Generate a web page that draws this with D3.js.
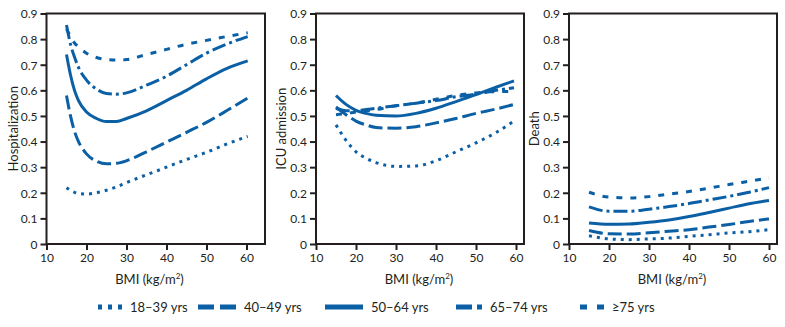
<!DOCTYPE html>
<html>
<head>
<meta charset="utf-8">
<script src="https://cdn.jsdelivr.net/npm/d3@7"></script>
<style>
  body { margin: 0; background: #fff; }
  svg { display: block; font-family: Lato, "Open Sans", sans-serif; }
</style>
</head>
<body>
<script>
// age groups + dash styles
const groups = ['18\u201339 yrs', '40\u201349 yrs', '50\u201364 yrs', '65\u201374 yrs', '\u226575 yrs'];
const dashes = ['3,5', '14,5', null, '14,4,3,4', '6,8'];

const yTicks = [0, 0.1, 0.2, 0.3, 0.4, 0.5, 0.6, 0.7, 0.8, 0.9];
const xTicks = [10, 20, 30, 40, 50, 60];

// Hospitalization
const hospBmi = [15, 16, 17, 18, 20, 22.5, 25, 27.5, 30, 35, 40, 45, 50, 55, 60.3];
const hosp18_39 = [0.22, 0.21, 0.202, 0.197, 0.195, 0.2, 0.21, 0.223, 0.24, 0.27, 0.3, 0.33, 0.358, 0.39, 0.42];
const hosp40_49 = [0.58, 0.5, 0.44, 0.4, 0.352, 0.323, 0.313, 0.315, 0.325, 0.36, 0.398, 0.436, 0.475, 0.52, 0.57];
const hosp50_64 = [0.74, 0.66, 0.6, 0.56, 0.515, 0.49, 0.478, 0.478, 0.49, 0.52, 0.56, 0.6, 0.645, 0.685, 0.715];
const hosp65_74 = [0.855, 0.78, 0.73, 0.69, 0.64, 0.605, 0.588, 0.585, 0.59, 0.62, 0.655, 0.7, 0.745, 0.78, 0.81];
const hosp75 = [0.84, 0.81, 0.785, 0.77, 0.745, 0.728, 0.72, 0.718, 0.72, 0.74, 0.76, 0.78, 0.795, 0.81, 0.825];

// ICU admission
const icuBmi = [15, 17.5, 20, 22.5, 25, 30, 35, 40, 45, 50, 55, 59.5];
const icu18_39 = [0.465, 0.405, 0.36, 0.335, 0.318, 0.303, 0.305, 0.325, 0.36, 0.395, 0.435, 0.48];
const icu40_49 = [0.535, 0.505, 0.48, 0.465, 0.455, 0.452, 0.458, 0.473, 0.49, 0.51, 0.527, 0.545];
const icu50_64 = [0.58, 0.545, 0.522, 0.51, 0.503, 0.5, 0.51, 0.53, 0.556, 0.583, 0.612, 0.637];
const icu65_74 = [0.53, 0.52, 0.52, 0.525, 0.53, 0.54, 0.55, 0.56, 0.575, 0.585, 0.6, 0.61];
const icu75 = [0.505, 0.51, 0.515, 0.52, 0.525, 0.54, 0.55, 0.565, 0.58, 0.59, 0.595, 0.595];

// Death
const deathBmi = [15, 20, 25, 30, 35, 40, 45, 50, 55, 60];
const death18_39 = [0.032, 0.02, 0.017, 0.02, 0.023, 0.03, 0.036, 0.043, 0.048, 0.056];
const death40_49 = [0.053, 0.04, 0.039, 0.044, 0.05, 0.056, 0.066, 0.076, 0.088, 0.098];
const death50_64 = [0.082, 0.077, 0.078, 0.085, 0.094, 0.107, 0.123, 0.14, 0.157, 0.17];
const death65_74 = [0.145, 0.128, 0.128, 0.136, 0.146, 0.158, 0.172, 0.186, 0.202, 0.22];
const death75 = [0.202, 0.183, 0.18, 0.185, 0.195, 0.205, 0.218, 0.232, 0.245, 0.258];

const panels = [
	{title: 'Hospitalization', bmi: hospBmi, series: [hosp18_39, hosp40_49, hosp50_64, hosp65_74, hosp75], left: 46.5, right: 265, labelX: 13},
	{title: 'ICU admission', bmi: icuBmi, series: [icu18_39, icu40_49, icu50_64, icu65_74, icu75], left: 316, right: 524, labelX: 281},
	{title: 'Death', bmi: deathBmi, series: [death18_39, death40_49, death50_64, death65_74, death75], left: 569, right: 777, labelX: 534}
];

const blue = '#0b5fa5';
const ink = '#231f20';
const top_y = 13.5, bottom_y = 244;

var svg = d3.select('body').append('svg')
	.attr('width', 785)
	.attr('height', 327);

var y = d3.scaleLinear().domain([0, 0.9]).range([bottom_y, top_y]);

panels.forEach(function(p)
{
	var x = d3.scaleLinear().domain([10, 60]).range([p.left, p.left + 200]);
	var g = svg.append('g');

	// frame
	g.append('rect')
		.attr('x', p.left).attr('y', top_y)
		.attr('width', p.right - p.left).attr('height', bottom_y - top_y)
		.attr('fill', 'none').attr('stroke', ink).attr('stroke-width', 2);

	var yAxis = g.append('g')
		.attr('transform', 'translate(' + p.left + ',0)')
		.call(d3.axisLeft(y).tickValues(yTicks).tickSize(6).tickPadding(3).tickFormat(d3.format('')));
	var xAxis = g.append('g')
		.attr('transform', 'translate(0,' + bottom_y + ')')
		.call(d3.axisBottom(x).tickValues(xTicks).tickSize(6).tickPadding(3));
	[yAxis, xAxis].forEach(function(a)
	{
		a.select('.domain').remove();
		a.selectAll('line').attr('stroke', ink).attr('stroke-width', 2);
		a.selectAll('text').attr('fill', ink).style('font-size', '12px').style('font-family', 'Lato, sans-serif');
	});
	yAxis.selectAll('text').attr('dy', '0.36em');

	g.append('text')
		.attr('transform', 'translate(' + p.labelX + ',' + ((top_y + bottom_y) / 2) + ') rotate(-90)')
		.attr('text-anchor', 'middle').attr('dy', '0.35em')
		.attr('fill', ink).style('font-size', '13px')
		.text(p.title);

	var xl = g.append('text')
		.attr('x', p.left + 103).attr('y', 284)
		.attr('text-anchor', 'middle')
		.attr('fill', ink).style('font-size', '13px');
	xl.append('tspan').text('BMI (kg/m');
	xl.append('tspan').attr('dy', -5).style('font-size', '8px').text('2');
	xl.append('tspan').attr('dy', 5).text(')');

	var line = d3.line()
		.x(function(d) { return x(d[0]); })
		.y(function(d) { return y(d[1]); })
		.curve(d3.curveMonotoneX);

	p.series.forEach(function(vals, i)
	{
		g.append('path')
			.datum(p.bmi.map(function(b, j) { return [b, vals[j]]; }))
			.attr('fill', 'none')
			.attr('stroke', blue)
			.attr('stroke-width', 3)
			.attr('stroke-dasharray', dashes[i])
			.attr('d', line);
	});
});

// legend
const legendSym = [[98, 122], [198, 236], [325, 363], [456, 482], [580, 604]];
const legendDash = ['4,6', '16,6', null, '16,5,5,20', '7,10'];
const legendY = 307;

groups.forEach(function(name, i)
{
	svg.append('line')
		.attr('x1', legendSym[i][0]).attr('x2', legendSym[i][1])
		.attr('y1', legendY).attr('y2', legendY)
		.attr('stroke', blue).attr('stroke-width', 5)
		.attr('stroke-dasharray', legendDash[i]);
	svg.append('text')
		.attr('x', legendSym[i][1] + 8).attr('y', legendY)
		.attr('dy', '0.35em')
		.attr('fill', ink).style('font-size', '13px')
		.text(name);
});
</script>
</body>
</html>
